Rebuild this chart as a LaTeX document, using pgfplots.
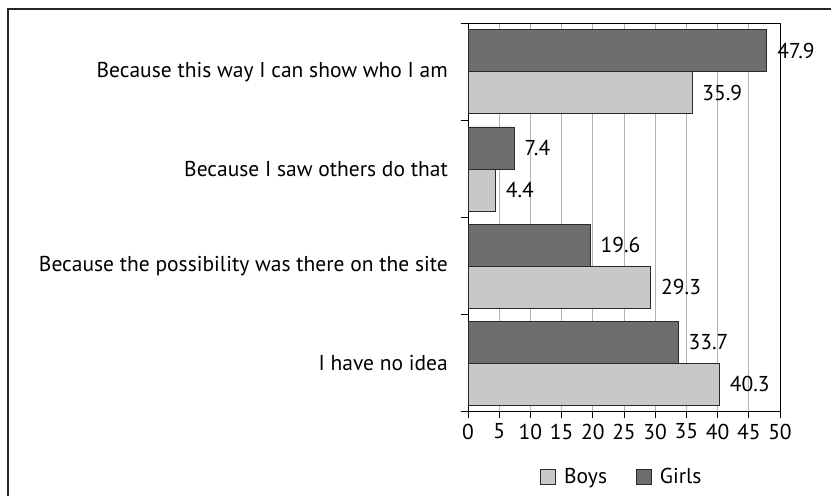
\documentclass[border=0pt]{standalone}
\usepackage{fontspec}
\setmainfont{PT Sans}
\usepackage{pgfplots}
\pgfplotsset{compat=1.18}
\definecolor{darkbar}{HTML}{6E6E6E}
\definecolor{lightbar}{HTML}{C8C8C8}
\definecolor{edge}{HTML}{2A2A2A}
\newcommand{\chartfont}{\fontsize{21.5bp}{24bp}\selectfont}
\begin{document}
\begin{tikzpicture}[font=\chartfont]
\useasboundingbox (0,0) rectangle (831bp,496bp);
\draw[line width=1.2bp, black!85] (8bp,0) -- (8bp,487bp) -- (831bp,487bp);
\begin{axis}[
  at={(468bp,84.3bp)}, anchor=south west,
  scale only axis, width=312bp, height=388.4bp,
  xbar, bar width=42bp,
  xmin=0, xmax=50, ymin=-0.5, ymax=3.5,
  clip=false,
  axis line style={black, line width=0.9bp},
  xtick={0,5,...,50},
  xmajorgrids, major grid style={gray!60, line width=0.8bp},
  xtick style={black, line width=0.9bp},
  major tick length=6bp,
  xtick pos=bottom, tick align=outside,
  ytick={0,1,2,3},
  yticklabels={I have no idea, Because the possibility was there on the site, Because I saw others do that, Because this way I can show who I am},
  ytick style={draw=none},
  minor ytick={-0.5,0.5,1.5,2.5,3.5},
  minor tick length=7bp,
  minor y tick style={black, line width=0.9bp, draw=black},
  ytick pos=left,
  yticklabel style={anchor=east, inner sep=0pt, xshift=-14bp},
  xticklabel style={inner sep=0pt, yshift=-6bp, anchor=north},
  tick label style={font=\chartfont},
  /pgf/number format/assume math mode=true,
  point meta=x,
  nodes near coords={\pgfmathprintnumber[fixed,precision=1,assume math mode=true]{\pgfplotspointmeta}},
  nodes near coords align={horizontal},
  every node near coord/.append style={font=\chartfont, anchor=west, inner sep=0pt, xshift=10bp, text=black},
  legend columns=2,
  legend style={at={(0.49,-0.168)}, anchor=center, draw=none, fill=none,
    font=\chartfont, nodes={inner sep=0pt},
    /tikz/every odd column/.append style={column sep=8bp},
    /tikz/every even column/.append style={column sep=29bp}},
  legend image code/.code={\draw[#1, draw=edge, line width=0.8bp] (0bp,-7.5bp) rectangle (15bp,7.5bp);},
]
\addplot[fill=lightbar, draw=edge, line width=0.8bp, bar shift=-21bp] coordinates {(40.3,0) (29.3,1) (4.4,2) (35.9,3)};
\addlegendentry{Boys}
\addplot[fill=darkbar, draw=edge, line width=0.8bp, bar shift=21bp] coordinates {(33.7,0) (19.6,1) (7.4,2) (47.9,3)};
\addlegendentry{Girls}
\end{axis}
\end{tikzpicture}
\end{document}
